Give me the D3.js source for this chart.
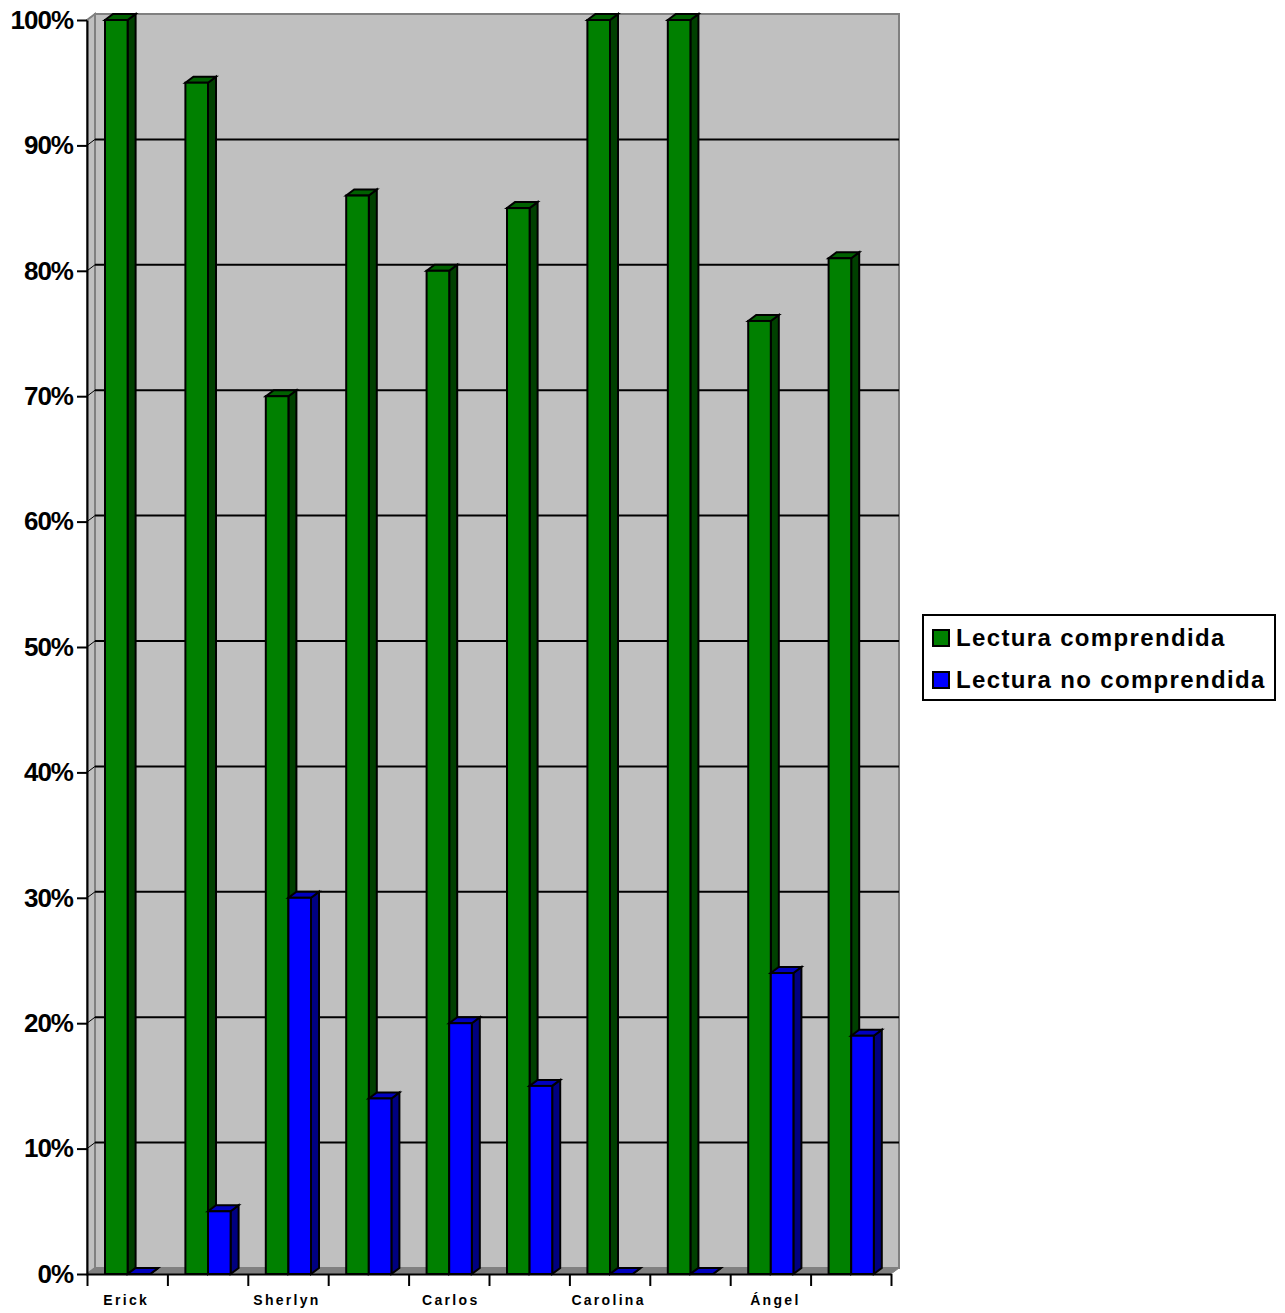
<!DOCTYPE html>
<html>
<head>
<meta charset="utf-8">
<script src="https://d3js.org/d3.v7.min.js"></script>
<style>
  html, body { margin: 0; padding: 0; background: #fff; }
  svg { display: block; }
  text { font-family: "Liberation Sans", Arial, sans-serif; font-weight: bold; fill: #000; }
</style>
</head>
<body>
<svg id="chart" width="1285" height="1313"></svg>
<script>
  // only every other category has a printed label in the chart
  var categories = ["Erick", "", "Sherlyn", "", "Carlos", "", "Carolina", "", "Ángel", ""];
  var comprendida = [100, 95, 70, 86, 80, 85, 100, 100, 76, 81];
  var noComprendida = [0, 5, 30, 14, 20, 15, 0, 0, 24, 19];
  var seriesNames = ["Lectura comprendida", "Lectura no comprendida"];
  var yTicks = [0, 10, 20, 30, 40, 50, 60, 70, 80, 90, 100];

  var plotLeft = 87, plotRight = 891, plotTop = 20, plotBottom = 1274;
  var dx = 8, dy = 6;

  var colors = [
    { front: "#008000", top: "#006000", side: "#004000" },
    { front: "#0000ff", top: "#0000c0", side: "#000080" }
  ];

  var svg = d3.select("#chart");

  var x = d3.scaleLinear().domain([0, categories.length]).range([plotLeft, plotRight]);
  var y = d3.scaleLinear().domain([0, 100]).range([plotBottom, plotTop]);

  // walls and floor
  var poly = function(pts) { return pts.map(function(p) { return p.join(","); }).join(" "); };

  svg.append("polygon")
    .attr("points", poly([[plotLeft + dx, plotTop - dy], [plotRight + dx, plotTop - dy], [plotRight + dx, plotBottom - dy], [plotLeft + dx, plotBottom - dy]]))
    .attr("fill", "#c0c0c0").attr("stroke", "#808080").attr("stroke-width", 2);

  svg.append("polygon")
    .attr("points", poly([[plotLeft, plotTop], [plotLeft + dx, plotTop - dy], [plotLeft + dx, plotBottom - dy], [plotLeft, plotBottom]]))
    .attr("fill", "#c0c0c0").attr("stroke", "#808080").attr("stroke-width", 2);

  svg.append("polygon")
    .attr("points", poly([[plotLeft, plotBottom], [plotLeft + dx, plotBottom - dy], [plotRight + dx, plotBottom - dy], [plotRight, plotBottom]]))
    .attr("fill", "#808080").attr("stroke", "#808080").attr("stroke-width", 1);

  // gridlines on the back wall, with the short diagonal on the side wall
  var grid = svg.append("g").attr("stroke", "#000").attr("stroke-width", 2);
  yTicks.filter(function(t) { return t > 0 && t < 100; }).forEach(function(t) {
    grid.append("line").attr("x1", plotLeft + dx).attr("x2", plotRight + dx).attr("y1", y(t) - dy).attr("y2", y(t) - dy);
  });
  yTicks.forEach(function(t) {
    grid.append("line").attr("x1", plotLeft).attr("x2", plotLeft + dx).attr("y1", y(t)).attr("y2", y(t) - dy)
      .attr("stroke-width", 1).attr("stroke", t > 0 && t < 100 ? "#000" : "#808080");
  });

  // bars
  var groupOffset = 18, barW = 22.6;
  function drawBar(i, value, s) {
    var x0 = x(i) + groupOffset + s * barW, x1 = x0 + barW, yt = y(value), yb = y(0);
    var g = svg.append("g").attr("stroke", "#000").attr("stroke-width", 2).attr("stroke-linejoin", "miter");
    g.append("polygon")
      .attr("points", poly([[x1, yt], [x1 + dx, yt - dy], [x1 + dx, yb - dy], [x1, yb]]))
      .attr("fill", colors[s].side);
    g.append("polygon")
      .attr("points", poly([[x0, yt], [x0 + dx, yt - dy], [x1 + dx, yt - dy], [x1, yt]]))
      .attr("fill", colors[s].top);
    g.append("rect")
      .attr("x", x0).attr("y", yt).attr("width", barW).attr("height", yb - yt)
      .attr("fill", colors[s].front);
  }
  categories.forEach(function(c, i) {
    drawBar(i, comprendida[i], 0);
    drawBar(i, noComprendida[i], 1);
  });

  // axes
  var yAxis = svg.append("g")
    .attr("transform", "translate(" + plotLeft + ",0)")
    .call(d3.axisLeft(y).tickValues(yTicks).tickSize(10).tickSizeOuter(0).tickPadding(4)
      .tickFormat(function(d) { return d + "%"; }));
  yAxis.selectAll("path, line").attr("stroke", "#000").attr("stroke-width", 2);
  yAxis.selectAll("text")
    .attr("font-size", 26).attr("font-family", null).attr("dy", "0.32em").style("letter-spacing", "-1px");

  var xAxis = svg.append("g")
    .attr("transform", "translate(0," + plotBottom + ")")
    .call(d3.axisBottom(x).tickValues(d3.range(categories.length + 1)).tickSize(12).tickSizeOuter(0)
      .tickFormat(""));
  xAxis.selectAll("path, line").attr("stroke", "#000").attr("stroke-width", 2);

  // labels in the original are not quite centred under their group
  var labelNudge = { 4: 3, 8: 6 };
  svg.append("g").selectAll("text")
    .data(categories)
    .join("text")
      .attr("x", function(d, i) { return x(i + 0.5) - 1 + (labelNudge[i] || 0); })
      .attr("y", 1305)
      .attr("text-anchor", "middle")
      .attr("font-size", 14)
      .style("letter-spacing", "2.3px")
      .text(function(d) { return d; });

  // legend
  var legend = svg.append("g");
  legend.append("rect")
    .attr("x", 923).attr("y", 615).attr("width", 352).attr("height", 85)
    .attr("fill", "#fff").attr("stroke", "#000").attr("stroke-width", 2);
  seriesNames.forEach(function(name, i) {
    var ly = 630 + i * 42;
    legend.append("rect")
      .attr("x", 933).attr("y", ly).attr("width", 16).attr("height", 16)
      .attr("fill", colors[i].front).attr("stroke", "#000").attr("stroke-width", 2);
    legend.append("text")
      .attr("x", 956).attr("y", ly + 16)
      .attr("font-size", 24)
      .style("letter-spacing", "1.35px")
      .text(name);
  });
</script>
</body>
</html>
